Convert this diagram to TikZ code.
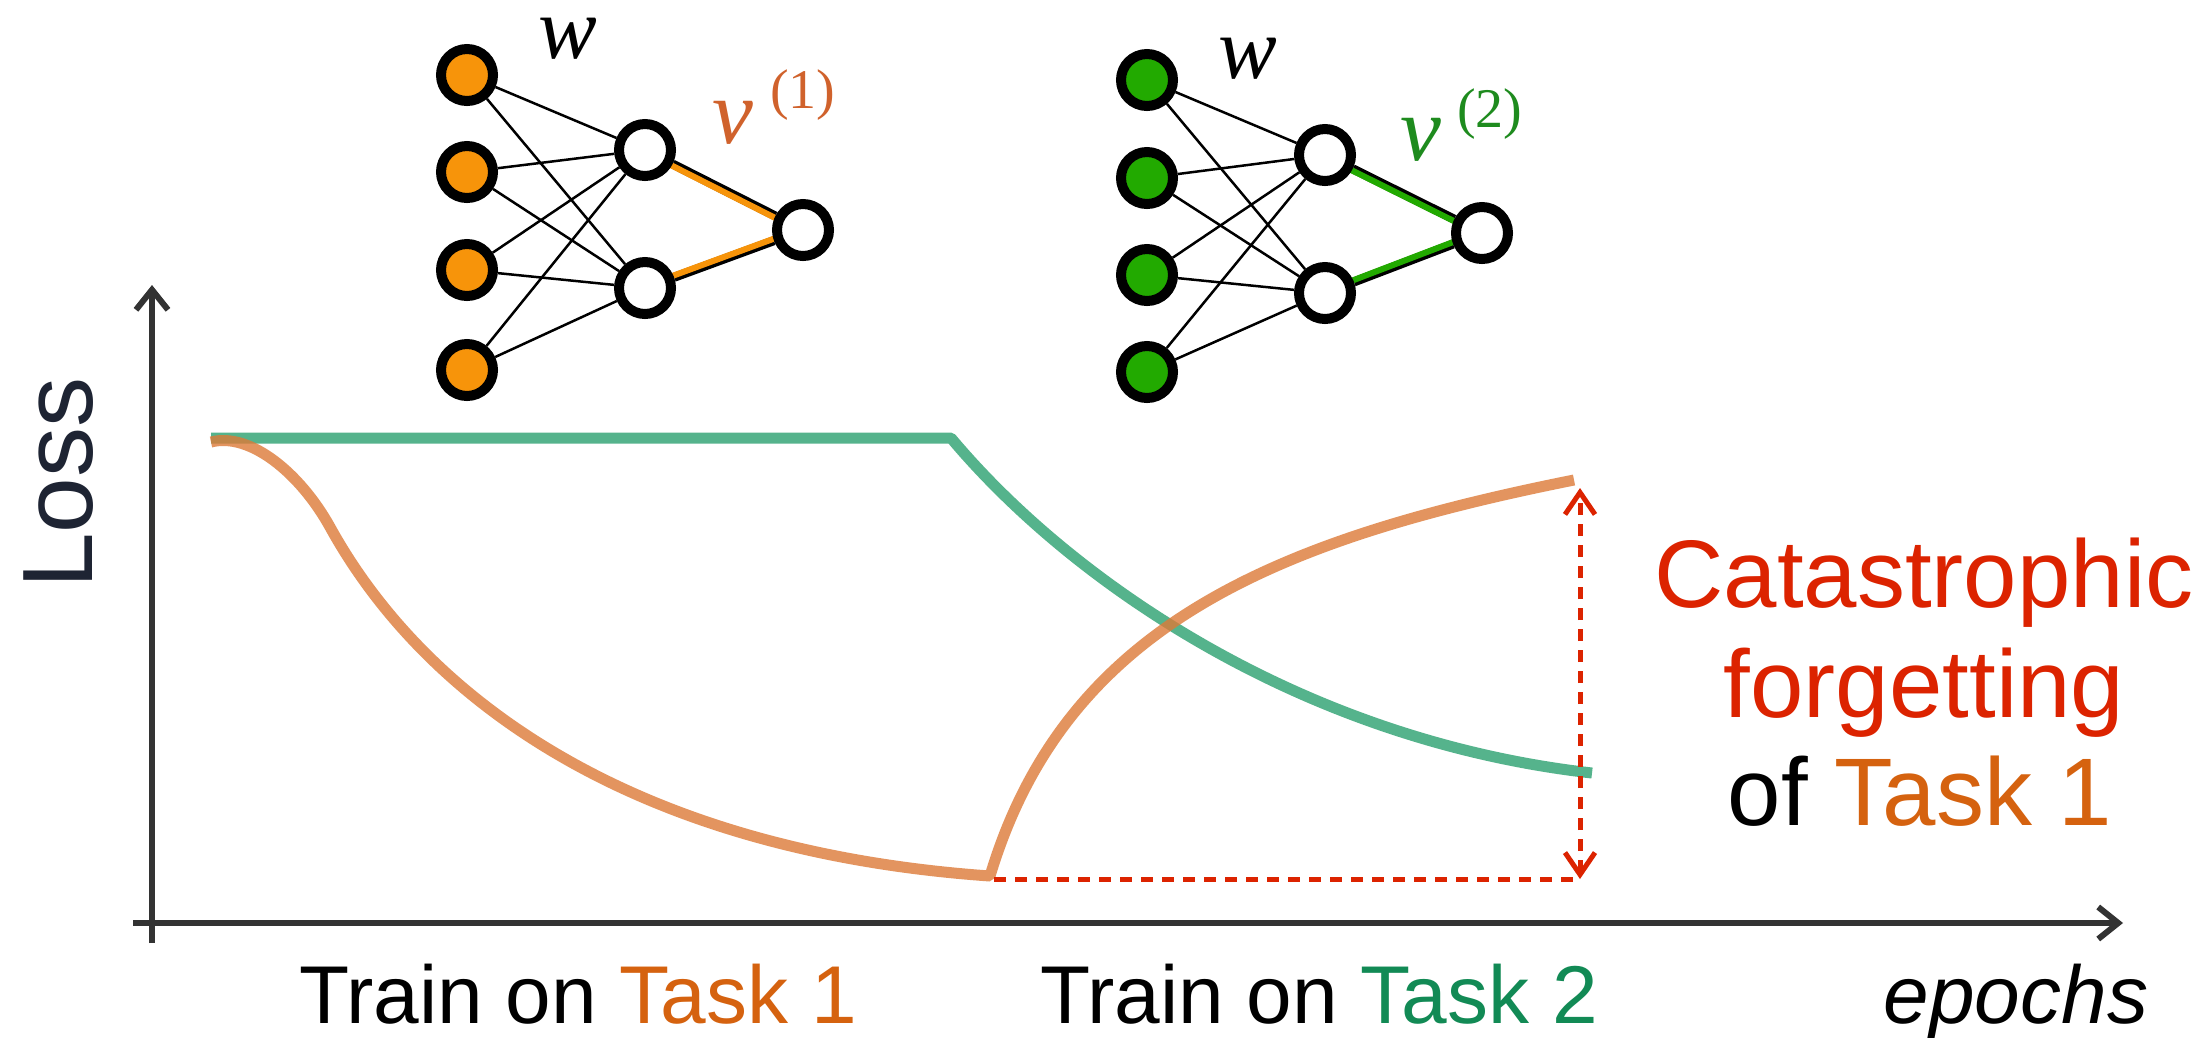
\documentclass[tikz,border=0pt]{standalone}
\usepackage{fontspec}
\setmainfont{Liberation Sans}
\newfontfamily\serifw{Liberation Serif}
\usetikzlibrary{arrows.meta,backgrounds}
\definecolor{nodeOrange}{HTML}{F7940A}
\definecolor{nodeGreen}{HTML}{22AA00}
\definecolor{vOrange}{HTML}{D0622C}
\definecolor{vGreen}{HTML}{1E8B1E}
\definecolor{curveOrange}{HTML}{DD7A38}
\definecolor{curveGreen}{HTML}{2BA070}
\definecolor{taskOrange}{HTML}{D5620F}
\definecolor{taskGreen}{HTML}{128A55}
\definecolor{forgetRed}{HTML}{DC2300}
\definecolor{lossNavy}{HTML}{1E2433}
\definecolor{axisGray}{HTML}{333333}
\begin{document}
\begin{tikzpicture}[x=1pt,y=-1pt,
  neuron/.style={circle, draw=black, line width=10pt, minimum size=52pt, inner sep=0pt, fill=white},
  thinedge/.style={black, line width=2.5pt},
  outedge/.style={black, line width=9pt},
  axisline/.style={axisGray, line width=6pt, -{Straight Barb[length=20pt,width=32pt]}},
  lossline/.style={line width=11pt, draw opacity=0.8, line join=bevel},
  reddash/.style={forgetRed, line width=5pt, dash pattern=on 12pt off 9pt},
  bigtext/.style={font=\fontsize{96}{110}\selectfont, anchor=base},
  labeltext/.style={font=\fontsize{82}{96}\selectfont, anchor=base},
  wlabel/.style={font=\serifw\itshape\fontsize{88}{90}\selectfont, anchor=base, inner sep=0pt},
  vlabel/.style={font=\serifw\itshape\fontsize{92}{94}\selectfont, anchor=base west, inner sep=0pt},
  vsup/.style={font=\serifw\fontsize{56}{58}\selectfont, anchor=base west, inner sep=0pt},
]
\useasboundingbox (0,0) rectangle (2203,1037);
\begin{scope}[on background layer]
  \fill[white] (0,0) rectangle (2203,1037);
\end{scope}

% ---------- network 1 ----------
\foreach \i/\y in {1/75,2/172,3/270,4/370}
  \node[neuron, fill=nodeOrange] (pi\i) at (467,\y) {};
\node[neuron] (ph1) at (645,150) {};
\node[neuron] (ph2) at (645,288) {};
\node[neuron] (po) at (803,230) {};
\node[wlabel] (pw) at (568,58) {w};
\node[vlabel, text=vOrange] (pv) at (712,143) {v};
\node[vsup, text=vOrange] (pvs) at (770,108) {(1)};

% ---------- network 2 ----------
\foreach \i/\y in {1/80,2/178,3/275,4/372}
  \node[neuron, fill=nodeGreen] (qi\i) at (1147,\y) {};
\node[neuron] (qh1) at (1325,155) {};
\node[neuron] (qh2) at (1325,293) {};
\node[neuron] (qo) at (1482,233) {};
\node[wlabel] (qw) at (1248,78) {w};
\node[vlabel, text=vGreen] (qv) at (1400,160) {v};
\node[vsup, text=vGreen] (qvs) at (1457,127) {(2)};

\begin{scope}[on background layer]
  \foreach \i in {1,2,3,4}{
    \foreach \j in {1,2}{
      \draw[thinedge] (pi\i) -- (ph\j);
      \draw[thinedge] (qi\i) -- (qh\j);
    }
  }
  \draw[outedge] (ph1) -- (po);
  \draw[outedge] (ph2) -- (po);
  \draw[nodeOrange, line width=6pt] ([yshift=-2pt]ph1.center) -- ([yshift=-2pt]po.center);
  \draw[nodeOrange, line width=6pt] ([yshift=2pt]ph2.center) -- ([yshift=2pt]po.center);
  \draw[outedge] (qh1) -- (qo);
  \draw[outedge] (qh2) -- (qo);
  \draw[nodeGreen, line width=6pt] ([yshift=-2pt]qh1.center) -- ([yshift=-2pt]qo.center);
  \draw[nodeGreen, line width=6pt] ([yshift=2pt]qh2.center) -- ([yshift=2pt]qo.center);
\end{scope}

% ---------- axes ----------
\coordinate (ybot) at (152,943);
\coordinate (ytop) at (152,285);
\coordinate (xleft) at (133,923);
\coordinate (xright) at (2123,923);
\draw[axisline] (ybot) -- (ytop);
\draw[axisline] (xleft) -- (xright);

% ---------- loss curves ----------
\coordinate (gs) at (211,438);
\coordinate (gk) at (951,438);
\coordinate (ge) at (1592,773);
\draw[lossline, curveGreen] (gs) -- (gk) .. controls (1070,580) and (1300,740) .. (ge);

\coordinate (os) at (211,442);
\coordinate (om) at (330,527);
\coordinate (ob) at (990,876);
\coordinate (oe) at (1574,480);
\draw[lossline, curveOrange] (os) .. controls (250,432) and (300,473) .. (om)
  .. controls (420,690) and (620,850) .. (ob)
  .. controls (1065,626) and (1274,540) .. (oe);

% ---------- forgetting gap ----------
\coordinate (fb) at (994,879);
\coordinate (fr) at (1580,879);
\coordinate (ft) at (1580,488);
\draw[reddash] (fb) -- (fr);
\draw[reddash, {Straight Barb[length=22pt,width=30pt]}-{Straight Barb[length=22pt,width=30pt]}] (fr) -- (ft);

% ---------- texts ----------
\node[font=\fontsize{100}{110}\selectfont, text=lossNavy, rotate=90, anchor=base] (loss) at (92,483) {Loss};
\node[bigtext, text=forgetRed] (cat1) at (1924,607) {Catastrophic};
\node[bigtext, text=forgetRed] (cat2) at (1924,717) {forgetting};
\node[bigtext] (cat3) at (1920,825) {of \textcolor{taskOrange}{Task 1}};
\node[labeltext] (t1) at (578,1023) {Train on \textcolor{taskOrange}{Task 1}};
\node[labeltext] (t2) at (1319,1023) {Train on \textcolor{taskGreen}{Task 2}};
\node[labeltext, font=\itshape\fontsize{82}{96}\selectfont] (ep) at (2016,1023) {epochs};
\end{tikzpicture}
\end{document}
